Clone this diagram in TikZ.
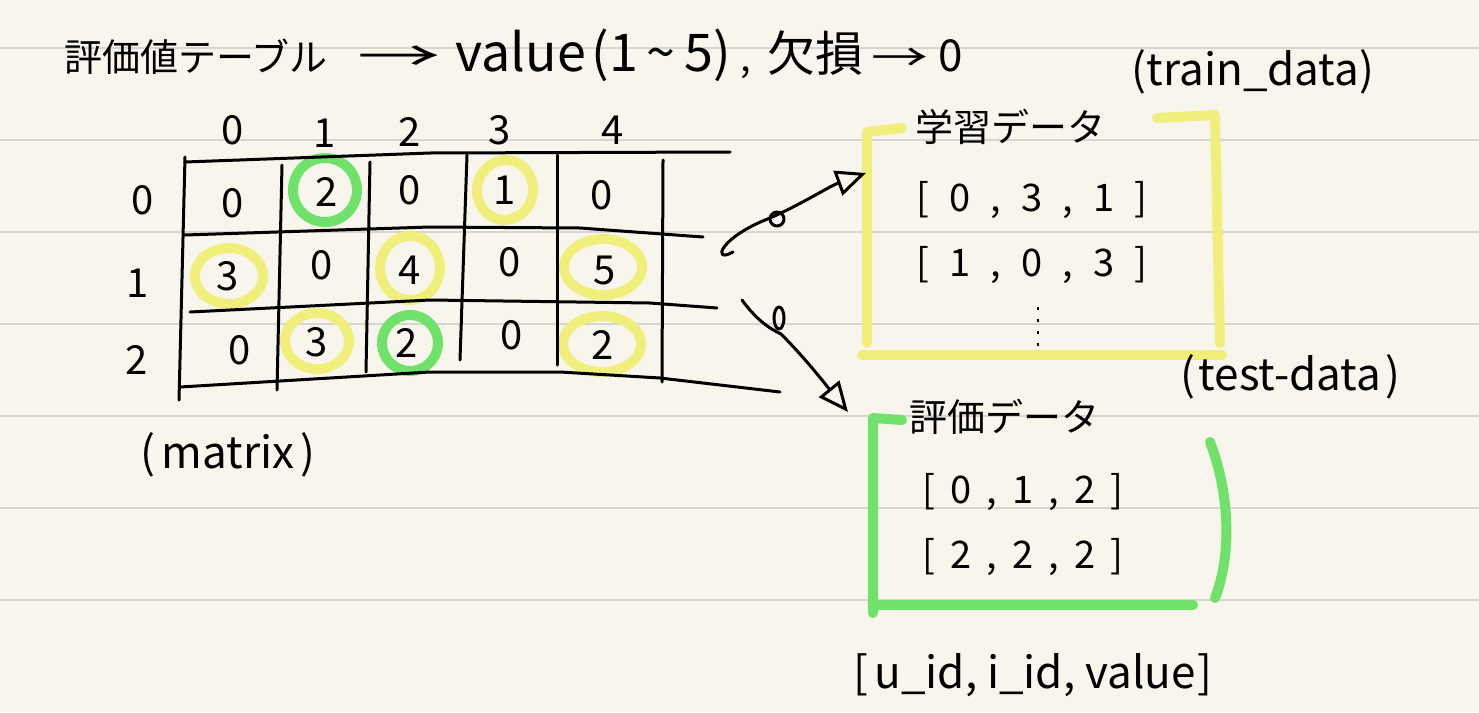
\documentclass[tikz,border=0pt]{standalone}
\usepackage{fontspec}
\newfontfamily\jp{Noto Sans CJK JP}
\usetikzlibrary{arrows.meta}
\definecolor{paper}{HTML}{F8F6EC}
\definecolor{ruleline}{HTML}{D6D5CF}
\definecolor{hlyellow}{HTML}{F1EF7C}
\definecolor{hlgreen}{HTML}{70E26B}
\newcommand\gp{\hspace{20pt}}
\newcommand\gq{\hspace{15pt}}
\newcommand\longarr{\scalebox{2.2}[1.1]{→}}
\tikzset{
  ruled/.style={draw=ruleline, line width=2},
  hand/.style={draw=black, line width=3, line cap=round, line join=round},
  cell/.style={font=\jp\fontsize{40}{44}\selectfont, inner sep=0},
  txt/.style={font=\jp\fontsize{38}{42}\selectfont, inner sep=0},
  bigtxt/.style={font=\jp\fontsize{44}{48}\selectfont, inner sep=0},
  hly/.style={draw=hlyellow, line width=10},
  hlg/.style={draw=hlgreen, line width=10},
  ybar/.style={draw=hlyellow, line width=10, line cap=round, line join=round},
  gbar/.style={draw=hlgreen, line width=10, line cap=round, line join=round},
  arr/.style={hand, -{Triangle[open, length=30pt, width=26pt, line width=3pt]}},
}
\begin{document}
\begin{tikzpicture}[x=1pt, y=-1pt]
\fill[paper] (0,0) rectangle (1479,712);
\useasboundingbox (0,0) rectangle (1479,712);
\foreach \y in {48,140,232,324,416,508,600} \draw[ruled] (0,\y) -- (1479,\y);

% title
\node[txt, anchor=west] (title) at (64,55) {評価値テーブル\hspace{30pt}\longarr\hspace{14pt}{\fontsize{52}{56}\selectfont value\hspace{6pt}(1\,\textasciitilde\,5)}\hspace{10pt},\hspace{16pt}{\fontsize{48}{52}\selectfont 欠損}\hspace{8pt}\scalebox{1.5}[1]{→}\hspace{10pt}{\fontsize{44}{48}\selectfont 0}};

% highlight circles
\draw[hlg] (325,190) ellipse [x radius=32, y radius=32];
\draw[hly, rotate around={-10:(505,190)}] (505,190) ellipse [x radius=28, y radius=30];
\draw[hly] (229,276) ellipse [x radius=34, y radius=28];
\draw[hly] (410,268) ellipse [x radius=30, y radius=32];
\draw[hly] (603,267) ellipse [x radius=39, y radius=28];
\draw[hly] (317,341) ellipse [x radius=32, y radius=28];
\draw[hlg] (410,343) ellipse [x radius=28, y radius=28];
\draw[hly] (602,344) ellipse [x radius=39, y radius=28];

% table lines
\draw[hand] (185,162) -- (430,153) -- (730,152);
\draw[hand] (185,235) -- (430,227) -- (580,228) -- (703,237);
\draw[hand] (190,312) -- (430,300) -- (650,303) -- (717,308);
\draw[hand] (180,387) -- (430,372) -- (560,372) -- (660,378) -- (780,392);
\draw[hand] (185,157) -- (179,400);
\draw[hand] (282,165) -- (277,390);
\draw[hand] (370,162) -- (366,372);
\draw[hand] (467,155) -- (460,360);
\draw[hand] (557,155) -- (557,365);
\draw[hand] (663,160) -- (662,382);

% headers
\node[cell] (h0) at (233,130) {0};
\node[cell] (h1) at (325,133) {1};
\node[cell] (h2) at (410,132) {2};
\node[cell] (h3) at (500,130) {3};
\node[cell] (h4) at (613,130) {4};
\node[cell] (r0) at (143,200) {0};
\node[cell] (r1) at (138,283) {1};
\node[cell] (r2) at (137,360) {2};

% cells
\node[cell] (c00) at (233,203) {0};
\node[cell] (c01) at (327,192) {2};
\node[cell] (c02) at (410,190) {0};
\node[cell] (c03) at (505,190) {1};
\node[cell] (c04) at (602,195) {0};
\node[cell] (c10) at (228,276) {3};
\node[cell] (c11) at (322,265) {0};
\node[cell] (c12) at (410,270) {4};
\node[cell] (c13) at (510,262) {0};
\node[cell] (c14) at (605,270) {5};
\node[cell] (c20) at (240,350) {0};
\node[cell] (c21) at (317,342) {3};
\node[cell] (c22) at (407,343) {2};
\node[cell] (c23) at (512,335) {0};
\node[cell] (c24) at (603,345) {2};

\node[bigtxt] (matrix) at (228,455) {(\hspace{6pt}matrix\hspace{6pt})};

% train data
\draw[ybar] (902,128) -- (867,132) -- (867,343);
\draw[ybar] (862,355) -- (1222,355);
\draw[ybar] (1157,118) -- (1215,115) -- (1220,343);
\node[txt] (trainh) at (1010,127) {学習データ};
\node[bigtxt] (trainlab) at (1253,72) {(train\_data)};
\node[txt] (tr1) at (1032,200) {[\gp 0\gp ,\gp 3\gp ,\gp 1\gp ]};
\node[txt] (tr2) at (1032,265) {[\gp 1\gp ,\gp 0\gp ,\gp 3\gp ]};
\draw[black, line width=2, dash pattern=on 3pt off 9pt] (1038,307) -- (1038,352);

% test data
\draw[gbar] (902,420) -- (873,418) -- (873,613);
\draw[gbar] (873,605) -- (1193,605);
\draw[gbar] (1210,442) .. controls (1232,500) and (1230,560) .. (1215,598);
\node[txt] (testh) at (1004,417) {評価データ};
\node[bigtxt] (testlab) at (1290,377) {(\hspace{4pt}test-data\hspace{4pt})};
\node[txt] (te1) at (1023,492) {[\gq 0\gq ,\gq 1\gq ,\gq 2\gq ]};
\node[txt] (te2) at (1023,557) {[\gq 2\gq ,\gq 2\gq ,\gq 2\gq ]};

\node[bigtxt] (schema) at (1033,675) {[\hspace{6pt}u\_id, i\_id, value\hspace{2pt}]};

% arrows
\coordinate (a1s) at (733,252);
\coordinate (a1e) at (866,173);
\coordinate (a2s) at (742,300);
\coordinate (a2e) at (848,412);
\draw[arr] (a1s) .. controls (712,264) and (718,238) .. (770,218) .. controls (800,205) and (830,186) .. (a1e);
\node[hand, circle, minimum size=14, inner sep=0] (o1) at (777,219) {};
\draw[arr] (a2s) .. controls (755,318) and (768,328) .. (781,334) .. controls (805,358) and (826,385) .. (a2e);
\draw[hand] (779,318) ellipse [x radius=5, y radius=11];
\end{tikzpicture}
\end{document}
